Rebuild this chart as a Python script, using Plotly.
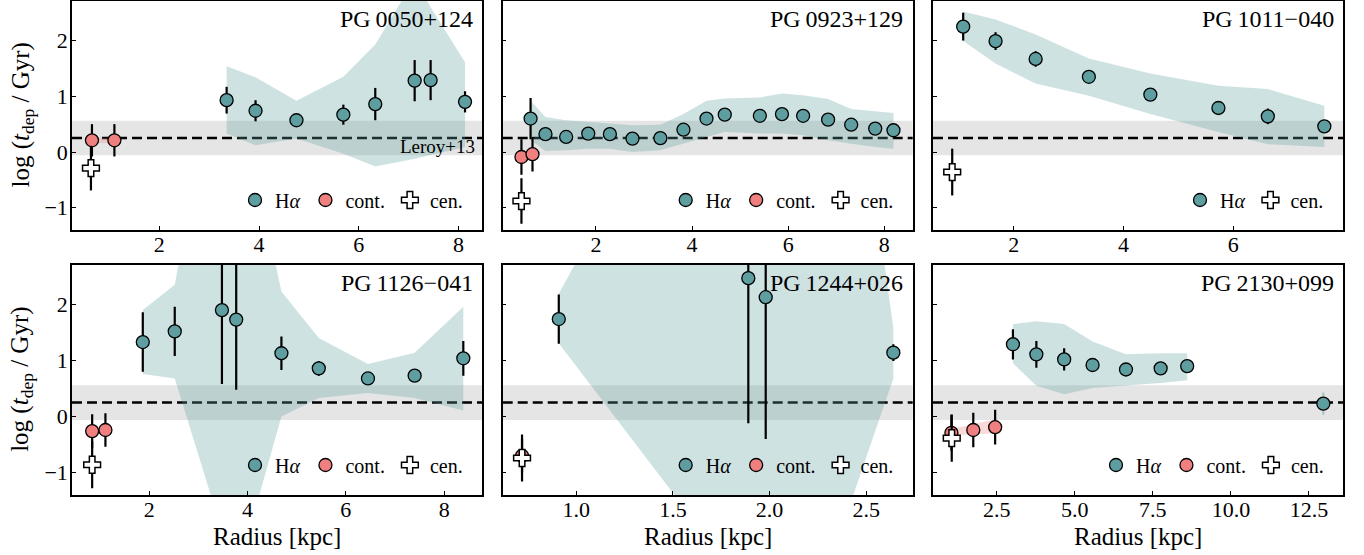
import plotly.graph_objects as go
from plotly.subplots import make_subplots

# ---------------- data ----------------
titles = ["PG\u20090050+124", "PG\u20090923+129", "PG\u20091011\u2212040",
          "PG\u20091126\u2212041", "PG\u20091244+026", "PG\u20092130+099"]

# Panel 1: PG 0050+124
p1_ha_r = [3.35, 3.93, 4.75, 5.69, 6.33, 7.12, 7.44, 8.13]
p1_ha_v = [0.93, 0.74, 0.57, 0.67, 0.86, 1.28, 1.29, 0.90]
p1_ha_e = [0.24, 0.19, 0.05, 0.18, 0.29, 0.37, 0.36, 0.19]
p1_band_hi = [1.54, 1.34, 0.92, 1.35, 1.93, 3.10, 2.60, 1.61]
p1_band_lo = [0.33, 0.12, 0.24, -0.03, -0.26, -0.12, -0.06, 0.09]
p1_co_r = [0.65, 1.10]
p1_co_v = [0.21, 0.21]
p1_co_e = [0.29, 0.29]
p1_co_hi = [0.25, 0.25]
p1_co_lo = [0.16, 0.16]
p1_ce_r = [0.63]
p1_ce_v = [-0.29]
p1_ce_e = [0.40]

# Panel 2: PG 0923+129
p2_ha_r = [0.64, 0.95, 1.38, 1.84, 2.29, 2.76, 3.34, 3.82, 4.30, 4.68, 5.41, 5.87, 6.31, 6.83, 7.31, 7.81, 8.19]
p2_ha_v = [0.60, 0.32, 0.27, 0.33, 0.32, 0.24, 0.25, 0.40, 0.60, 0.67, 0.65, 0.68, 0.65, 0.58, 0.49, 0.42, 0.39]
p2_ha_e = [0.37, 0.12, 0.06, 0.06, 0.06, 0.06, 0.06, 0.08, 0.08, 0.08, 0.06, 0.06, 0.06, 0.08, 0.06, 0.06, 0.06]
p2_band_hi = [0.92, 0.63, 0.57, 0.54, 0.52, 0.48, 0.49, 0.68, 0.92, 0.96, 0.98, 1.05, 1.02, 0.95, 0.77, 0.73, 0.70]
p2_band_lo = [0.21, 0.02, 0.03, 0.06, 0.06, 0.00, 0.03, 0.15, 0.27, 0.36, 0.33, 0.33, 0.30, 0.21, 0.15, 0.09, 0.06]
p2_co_r = [0.45, 0.68]
p2_co_v = [-0.09, -0.04]
p2_co_e = [0.32, 0.31]
p2_co_hi = [-0.02, 0.00]
p2_co_lo = [-0.20, -0.12]
p2_ce_r = [0.45]
p2_ce_v = [-0.88]
p2_ce_e = [0.41]

# Panel 3: PG 1011-040
p3_ha_r = [1.08, 1.67, 2.40, 3.37, 4.49, 5.73, 6.63, 7.66]
p3_ha_v = [2.25, 1.99, 1.67, 1.35, 1.03, 0.79, 0.64, 0.46]
p3_ha_e = [0.25, 0.16, 0.14, 0.06, 0.06, 0.06, 0.14, 0.06]
p3_band_hi = [2.52, 2.38, 2.11, 1.68, 1.41, 1.19, 1.13, 0.83]
p3_band_lo = [1.99, 1.59, 1.23, 1.01, 0.68, 0.36, 0.14, 0.09]
p3_ce_r = [0.88]
p3_ce_v = [-0.36]
p3_ce_e = [0.42]

# Panel 4: PG 1126-041
p4_ha_r = [1.87, 2.52, 3.48, 3.77, 4.69, 5.45, 6.45, 7.40, 8.39]
p4_ha_v = [1.33, 1.52, 1.90, 1.73, 1.13, 0.86, 0.68, 0.73, 1.04]
p4_ha_e = [0.53, 0.44, 1.32, 1.25, 0.30, 0.13, 0.06, 0.06, 0.31]
p4_band_hi = [1.90, 2.35, 6.90, 6.00, 2.23, 1.40, 0.94, 1.14, 1.96]
p4_band_lo = [0.76, 0.68, -2.04, -2.87, 0.00, 0.33, 0.42, 0.33, 0.11]
p4_co_r = [0.84, 1.11]
p4_co_v = [-0.26, -0.24]
p4_co_e = [0.30, 0.30]
p4_ce_r = [0.84]
p4_ce_v = [-0.86]
p4_ce_e = [0.42]

# Panel 5: PG 1244+026
p5_ha_r = [0.91, 1.89, 1.98, 2.64]
p5_ha_v = [1.74, 2.47, 2.13, 1.14]
p5_ha_e = [0.44, 2.59, 2.53, 0.15]
p5_band_hi = [2.19, 8.40, 18.0, 1.58]
p5_band_lo = [1.31, -3.13, -5.94, 0.68]
p5_co_r = [0.72]
p5_co_v = [-0.70]
p5_co_e = [0.30]
p5_ce_r = [0.72]
p5_ce_v = [-0.74]
p5_ce_e = [0.42]

# Panel 6: PG 2130+099
p6_ha_r = [3.02, 3.77, 4.66, 5.57, 6.64, 7.75, 8.60]
p6_ha_v = [1.29, 1.11, 1.02, 0.92, 0.84, 0.86, 0.90]
p6_ha_e = [0.27, 0.24, 0.20, 0.06, 0.06, 0.06, 0.06]
p6_band_hi = [1.65, 1.70, 1.65, 1.34, 1.11, 1.13, 1.13]
p6_band_lo = [0.95, 0.55, 0.40, 0.51, 0.55, 0.60, 0.65]
p6_out_r = [12.96]
p6_out_v = [0.23]
p6_out_e = [0.20]
p6_co_r = [1.05, 1.75, 2.45]
p6_co_v = [-0.29, -0.24, -0.19]
p6_co_e = [0.32, 0.31, 0.31]
p6_co_hi = [-0.22, -0.14, -0.05]
p6_co_lo = [-0.34, -0.32, -0.30]
p6_ce_r = [1.06]
p6_ce_v = [-0.385]
p6_ce_e = [0.42]

leroy_value = 0.25
leroy_lo = -0.06
leroy_hi = 0.56

x_ranges = [[0.25, 8.47], [0.06, 8.59], [0.53, 8.0], [0.43, 8.77], [0.62, 2.74], [0.46, 13.59]]
x_ticks = [[2, 4, 6, 8], [2, 4, 6, 8], [2, 4, 6], [2, 4, 6, 8], [1.0, 1.5, 2.0, 2.5], [2.5, 5.0, 7.5, 10.0, 12.5]]
x_fmt = ["d", "d", "d", "d", ".1f", ".1f"]
y_range = [-1.4, 2.71]
y_ticks = [-1, 0, 1, 2]

panels = [
    dict(ha=(p1_ha_r, p1_ha_v, p1_ha_e), band=(p1_ha_r, p1_band_hi, p1_band_lo),
         co=(p1_co_r, p1_co_v, p1_co_e), coband=(p1_co_r, p1_co_hi, p1_co_lo),
         ce=(p1_ce_r, p1_ce_v, p1_ce_e)),
    dict(ha=(p2_ha_r, p2_ha_v, p2_ha_e), band=(p2_ha_r, p2_band_hi, p2_band_lo),
         co=(p2_co_r, p2_co_v, p2_co_e), coband=(p2_co_r, p2_co_hi, p2_co_lo),
         ce=(p2_ce_r, p2_ce_v, p2_ce_e)),
    dict(ha=(p3_ha_r, p3_ha_v, p3_ha_e), band=(p3_ha_r, p3_band_hi, p3_band_lo),
         co=None, coband=None, ce=(p3_ce_r, p3_ce_v, p3_ce_e)),
    dict(ha=(p4_ha_r, p4_ha_v, p4_ha_e), band=(p4_ha_r, p4_band_hi, p4_band_lo),
         co=(p4_co_r, p4_co_v, p4_co_e), coband=None, ce=(p4_ce_r, p4_ce_v, p4_ce_e)),
    dict(ha=(p5_ha_r, p5_ha_v, p5_ha_e), band=(p5_ha_r, p5_band_hi, p5_band_lo),
         co=(p5_co_r, p5_co_v, p5_co_e), coband=None, ce=(p5_ce_r, p5_ce_v, p5_ce_e)),
    dict(ha=(p6_ha_r, p6_ha_v, p6_ha_e), band=(p6_ha_r, p6_band_hi, p6_band_lo),
         co=(p6_co_r, p6_co_v, p6_co_e), coband=(p6_co_r, p6_co_hi, p6_co_lo),
         ce=(p6_ce_r, p6_ce_v, p6_ce_e), out=(p6_out_r, p6_out_v, p6_out_e)),
]

# ---------------- style ----------------
W, H = 1364, 555
FONT = "Liberation Serif, Times New Roman, serif"
TEAL = "#5f9ea0"
TEAL_FILL = "rgba(95,158,160,0.30)"
PINK = "#f08080"
PINK_FILL = "rgba(240,128,128,0.30)"

col_px = [(72, 482), (502.7, 912.7), (933, 1343)]
row_px = [(1, 230), (264.7, 495)]

fig = make_subplots(rows=2, cols=3)

for i, p in enumerate(panels):
    r, c = divmod(i, 3)
    xa = "x" if i == 0 else f"x{i+1}"
    ya = "y" if i == 0 else f"y{i+1}"
    lg = "legend" if i == 0 else f"legend{i+1}"

    bx, bhi, blo = p["band"]
    fig.add_trace(go.Scatter(x=list(bx) + list(bx)[::-1], y=list(bhi) + list(blo)[::-1],
                             fill="toself", fillcolor=TEAL_FILL, line=dict(width=0),
                             mode="lines", showlegend=False, hoverinfo="skip",
                             xaxis=xa, yaxis=ya))
    if p.get("coband"):
        cx, chi, clo = p["coband"]
        fig.add_trace(go.Scatter(x=list(cx) + list(cx)[::-1], y=list(chi) + list(clo)[::-1],
                                 fill="toself", fillcolor=PINK_FILL, line=dict(width=0),
                                 mode="lines", showlegend=False, hoverinfo="skip",
                                 xaxis=xa, yaxis=ya))
    hx, hv, he = p["ha"]
    fig.add_trace(go.Scatter(x=hx, y=hv, mode="markers", name="H<i>α</i>",
                             marker=dict(size=13, color=TEAL, line=dict(color="black", width=1.3)),
                             error_y=dict(type="data", array=he, color="black", thickness=2.2, width=0),
                             legend=lg, xaxis=xa, yaxis=ya))
    if p.get("out"):
        ox, ov, oe = p["out"]
        fig.add_trace(go.Scatter(x=ox, y=ov, mode="markers", showlegend=False,
                                 marker=dict(size=13, color=TEAL, line=dict(color="black", width=1.3)),
                                 error_y=dict(type="data", array=oe, color="rgba(120,160,160,0.5)",
                                              thickness=2.2, width=0),
                                 xaxis=xa, yaxis=ya))
    if p.get("co"):
        kx, kv, ke = p["co"]
        fig.add_trace(go.Scatter(x=kx, y=kv, mode="markers", name="cont.",
                                 marker=dict(size=13, color=PINK, line=dict(color="black", width=1.3)),
                                 error_y=dict(type="data", array=ke, color="black", thickness=2.2, width=0),
                                 legend=lg, xaxis=xa, yaxis=ya))
    ex, ev, ee = p["ce"]
    fig.add_trace(go.Scatter(x=ex, y=ev, mode="markers", name="cen.",
                             marker=dict(size=14, symbol="cross", color="white",
                                         line=dict(color="black", width=1.5)),
                             error_y=dict(type="data", array=ee, color="black", thickness=2.2, width=0),
                             legend=lg, xaxis=xa, yaxis=ya))

    # Leroy+13 band and line
    fig.add_shape(type="rect", xref=f"{xa} domain", yref=ya, x0=0, x1=1,
                  y0=leroy_lo, y1=leroy_hi, fillcolor="rgba(0,0,0,0.10)",
                  line=dict(width=0), layer="below")
    fig.add_shape(type="line", xref=f"{xa} domain", yref=ya, x0=0, x1=1,
                  y0=leroy_value, y1=leroy_value,
                  line=dict(color="black", width=2.4, dash="10px,5px"), layer="below")

    x0p, x1p = col_px[c]
    y0p, y1p = row_px[r]
    xd = [x0p / W, x1p / W]
    yd = [(H - y1p) / H, (H - y0p) / H]
    axis_common = dict(showline=True, linecolor="black", linewidth=1.5, mirror=True,
                       ticks="inside", ticklen=4, tickwidth=1.2, tickcolor="black",
                       showgrid=False, zeroline=False,
                       tickfont=dict(family=FONT, size=22, color="black"))
    fig.layout[f"xaxis{'' if i == 0 else i+1}"].update(
        domain=xd, range=x_ranges[i], tickvals=x_ticks[i], tickformat=x_fmt[i],
        anchor=ya, ticklabelstandoff=-6, **axis_common)
    fig.layout[f"yaxis{'' if i == 0 else i+1}"].update(
        domain=yd, range=y_range, tickvals=y_ticks, showticklabels=(c == 0),
        anchor=xa, ticklabelstandoff=-2, **axis_common)

    # legend
    fig.layout[lg] = dict(orientation="h", xanchor="right", yanchor="middle",
                          x=(x1p - 14) / W, y=(H - (y1p - 30)) / H,
                          bgcolor="rgba(0,0,0,0)", borderwidth=0,
                          font=dict(family=FONT, size=20, color="black"),
                          itemwidth=30, tracegroupgap=0)

    # panel title
    fig.add_annotation(text=titles[i], xref=f"{xa} domain", yref=f"{ya} domain",
                       x=0.982, y=0.985, xanchor="right", yanchor="top", showarrow=False,
                       font=dict(family=FONT, size=24, color="black"))

# Leroy+13 label
fig.add_annotation(text="Leroy+13", xref="x domain", yref="y", x=0.988, y=0.10,
                   xanchor="right", yanchor="middle", showarrow=False,
                   font=dict(family=FONT, size=19, color="black"))

# axis titles
for c in range(3):
    x0p, x1p = col_px[c]
    fig.add_annotation(text="Radius [kpc]", xref="paper", yref="paper",
                       x=(x0p + x1p) / 2 / W, y=(H - 536) / H, xanchor="center", yanchor="middle",
                       showarrow=False, font=dict(family=FONT, size=25, color="black"))
for r in range(2):
    y0p, y1p = row_px[r]
    fig.add_annotation(text="log (<i>t</i><sub>dep</sub> / Gyr)", xref="paper", yref="paper",
                       x=22 / W, y=(H - (y0p + y1p) / 2) / H, xanchor="center", yanchor="middle",
                       textangle=-90, showarrow=False, font=dict(family=FONT, size=25, color="black"))

fig.update_layout(width=W, height=H, margin=dict(l=0, r=0, t=0, b=0),
                  paper_bgcolor="white", plot_bgcolor="white",
                  font=dict(family=FONT, color="black"))

fig.write_html("out.html")
